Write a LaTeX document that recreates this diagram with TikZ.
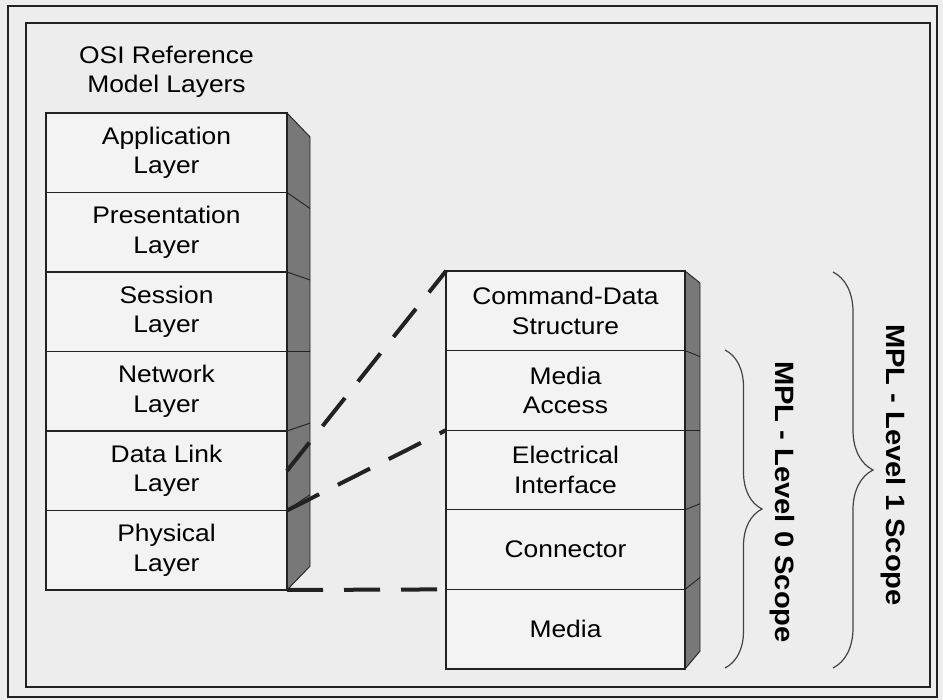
\documentclass[tikz,border=0pt]{standalone}
\usepackage{fontspec}
\setmainfont{Liberation Sans}[FakeStretch=1.1]
\usetikzlibrary{decorations.pathreplacing}
\definecolor{bgc}{HTML}{EDEDED}
\definecolor{facec}{HTML}{F3F3F3}
\definecolor{sidec}{HTML}{787878}
\definecolor{linec}{HTML}{222222}
\tikzset{
  layerbox/.style={draw=linec, line width=1.1pt, fill=facec, rectangle, inner sep=0pt, outer sep=0pt, align=center, font=\fontsize{24}{29.5}\selectfont},
  leftbox/.style={layerbox, minimum width=241pt, minimum height=79.5pt},
  rightbox/.style={layerbox, minimum width=239pt, minimum height=79.6pt},
  sideface/.style={fill=sidec, draw=linec, line width=0.9pt},
  sidediv/.style={draw=linec, line width=0.9pt},
  mapline/.style={draw=linec, line width=4pt, dash pattern=on 36pt off 21pt},
  scopebrace/.style={draw=linec!85, line width=1.2pt, decorate},
  scopelabel/.style={rotate=-90, anchor=base, font=\fontsize{26.5}{30}\selectfont\bfseries}
}
\begin{document}
\begin{tikzpicture}[x=1pt,y=-1pt]
\useasboundingbox (0,0) rectangle (943,700);
\fill[bgc] (0,0) rectangle (943,700);
\draw[linec, line width=1.6pt] (8,6) rectangle (937,697);
\draw[linec, line width=1.6pt] (26,23) rectangle (930,687);

% title
\node[align=center, font=\fontsize{24}{29.5}\selectfont] (title) at (166.5,72) {OSI Reference\\Model Layers};

% left side face
\filldraw[sideface] (287,113) -- (310,136.9) -- (310,566.2) -- (287,590) -- cycle;
\foreach \fy/\by in {192.5/208.45, 272/280, 351.5/351.55, 431/423.1, 510.5/494.65}
  \draw[sidediv] (287,\fy) -- (310,\by);

% right side face
\filldraw[sideface] (685,271) -- (700,282.9) -- (700,651.1) -- (685,669) -- cycle;
\foreach \fy/\by in {350.6/356.6, 430.2/430.2, 509.8/503.8, 589.4/577.5}
  \draw[sidediv] (685,\fy) -- (700,\by);

% left stack
\node[leftbox] (L1) at (166.5,152.75) {Application\\Layer};
\node[leftbox] (L2) at (166.5,232.25) {Presentation\\Layer};
\node[leftbox] (L3) at (166.5,311.75) {Session\\Layer};
\node[leftbox] (L4) at (166.5,391.25) {Network\\Layer};
\node[leftbox] (L5) at (166.5,470.75) {Data Link\\Layer};
\node[leftbox] (L6) at (166.5,550.25) {Physical\\Layer};

% right stack
\node[rightbox] (R1) at (565.5,310.8) {Command-Data\\Structure};
\node[rightbox] (R2) at (565.5,390.4) {Media\\Access};
\node[rightbox] (R3) at (565.5,470) {Electrical\\Interface};
\node[rightbox] (R4) at (565.5,549.6) {Connector};
\node[rightbox] (R5) at (565.5,629.2) {Media};

% mapping lines
\draw[mapline] (L5.east) -- (R1.north west);
\draw[mapline] (L6.north east) -- (R3.north west);
\draw[mapline] (L6.south east) -- (R5.north west);

% braces
\coordinate (b0top) at (725,350);
\coordinate (b0bot) at (725,668);
\coordinate (b1top) at (833,272);
\coordinate (b1bot) at (833,668);
\draw[scopebrace, decoration={brace, amplitude=37pt}] (b0top) -- (b0bot);
\draw[scopebrace, decoration={brace, amplitude=40pt}] (b1top) -- (b1bot);

\node[scopelabel] (lvl0) at (775,502) {MPL - Level 0 Scope};
\node[scopelabel] (lvl1) at (886,465) {MPL - Level 1 Scope};
\end{tikzpicture}
\end{document}
